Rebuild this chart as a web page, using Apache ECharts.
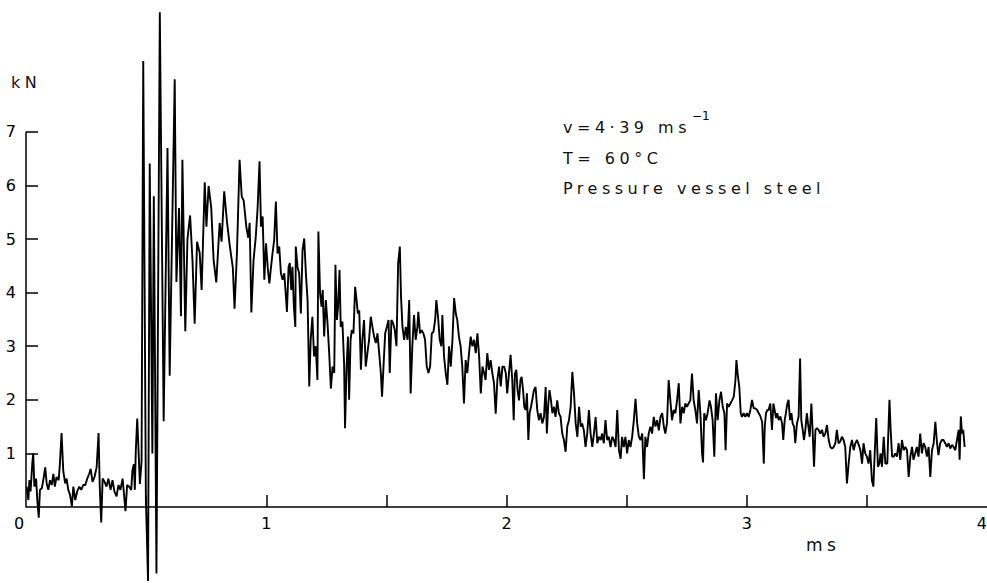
<!DOCTYPE html>
<html>
<head>
<meta charset="utf-8">
<script src="https://cdn.jsdelivr.net/npm/echarts@6/dist/echarts.min.js"></script>
<style>
html, body { margin: 0; padding: 0; background: #fff; }
#chart { width: 987px; height: 583px; }
/* stencil lettering of the original is widely spaced */
#chart text[fill="#111"] { letter-spacing: 4.5px; }
</style>
</head>
<body>
<div id="chart"></div>
<script>
// force record, [time ms, force kN]
const preImpact = [
  [0.003,0.38],[0.010,0.13],[0.014,0.50],[0.019,0.29],[0.026,0.80],[0.030,1.00],[0.035,0.38],[0.042,0.53],
  [0.047,0.13],[0.053,-0.20],[0.058,0.32],[0.066,0.35],[0.073,0.53],[0.080,0.74],[0.086,0.44],[0.093,0.32],
  [0.100,0.50],[0.107,0.41],[0.114,0.62],[0.120,0.38],[0.127,0.56],[0.136,0.50],[0.141,0.80],[0.148,1.38],
  [0.155,0.68],[0.163,0.44],[0.169,0.53],[0.176,0.32],[0.183,0.23],[0.191,0.01],[0.197,0.38],[0.205,0.13],
  [0.213,0.29],[0.222,0.38],[0.230,0.32],[0.238,0.41],[0.247,0.41],[0.255,0.53],[0.263,0.62],[0.269,0.71],
  [0.277,0.47],[0.285,0.56],[0.294,0.74],[0.302,1.38],[0.307,0.38],[0.313,-0.29],[0.319,0.53],[0.327,0.47],
  [0.335,0.38],[0.343,0.53],[0.352,0.32],[0.360,0.50],[0.368,0.29],[0.377,0.20],[0.385,0.41],[0.393,0.32],
  [0.402,0.53],[0.407,0.29],[0.414,-0.08],[0.421,0.41],[0.429,0.38],[0.438,0.32],[0.443,0.68],[0.449,0.80],
  [0.453,0.32],[0.457,1.05],[0.463,1.65]
];

const impact = [
  [0.474,0.43],[0.481,0.85],[0.488,8.32],[0.499,0.15],[0.508,-1.38],[0.515,6.41],[0.526,1.00],[0.532,5.80],
  [0.543,-1.24],[0.557,9.23],[0.573,1.60],[0.589,6.70],[0.598,2.45],[0.619,7.98],[0.626,4.20],[0.637,5.58],
  [0.645,3.56],[0.651,6.48],[0.663,3.28],[0.672,5.00],[0.683,5.44],[0.693,4.60],[0.702,3.42],[0.712,4.95],
  [0.723,4.74],[0.731,4.05],[0.744,6.06],[0.751,5.23],[0.760,5.99],[0.771,5.58],[0.781,4.60],[0.792,4.19],
  [0.806,5.30],[0.814,4.95],[0.825,5.89],[0.837,5.30],[0.848,4.88],[0.861,4.46],[0.868,3.70],[0.878,4.74],
  [0.889,6.48],[0.898,5.79],[0.906,5.72],[0.917,5.23],[0.925,5.02],[0.931,5.30],[0.938,3.63],[0.947,4.60],
  [0.956,5.02],[0.964,5.58],[0.972,6.45]
];

const decay = [
  [0.978,5.23],[0.985,5.42],[0.992,4.24],[0.999,4.92],[1.006,4.48],[1.013,4.17],[1.020,4.48],[1.026,4.73],
  [1.033,4.98],[1.040,5.70],[1.047,4.73],[1.054,4.86],[1.061,4.36],[1.068,4.24],[1.075,4.36],[1.082,3.92],
  [1.086,3.64],[1.093,4.48],[1.098,4.55],[1.104,4.05],[1.109,4.48],[1.115,3.74],[1.121,3.36],[1.123,4.86],
  [1.130,4.48],[1.137,4.36],[1.144,3.61],[1.151,4.79],[1.158,5.01],[1.165,4.36],[1.172,3.86],[1.179,2.25],
  [1.185,3.12],[1.192,3.55],[1.199,2.81],[1.206,3.00],[1.213,2.37],[1.217,5.14],[1.224,3.99],[1.230,3.74],
  [1.235,4.05],[1.241,3.18],[1.248,3.86],[1.255,3.43],[1.262,2.87],[1.269,2.21],[1.276,2.62],[1.283,2.50],
  [1.288,4.52],[1.294,3.49],[1.299,3.74],[1.305,4.42],[1.310,3.36],[1.317,3.46],[1.324,2.68],[1.328,1.47],
  [1.334,2.56],[1.340,3.18],[1.345,2.00],[1.351,3.12],[1.356,3.30],[1.363,3.24],[1.370,4.11],[1.376,3.86],
  [1.381,3.61],[1.387,3.67],[1.394,2.56],[1.400,3.12],[1.407,3.49],[1.414,2.62],[1.421,2.87],[1.428,3.12],
  [1.435,3.55],[1.442,3.36],[1.449,3.18],[1.456,3.06],[1.463,3.24],[1.470,2.87],[1.477,2.50],[1.482,2.06],
  [1.488,2.62],[1.495,3.24],[1.502,3.36],[1.509,3.49],[1.514,2.50],[1.521,3.49],[1.528,3.43],[1.535,3.30],
  [1.542,3.00],[1.549,4.55],[1.556,4.86],[1.561,3.92],[1.567,3.36],[1.574,3.12],[1.581,3.36],[1.588,3.12],
  [1.595,3.86],[1.601,2.12],[1.608,3.00],[1.615,3.58],[1.622,3.12],[1.629,3.36],[1.633,3.64],[1.640,3.24],
  [1.647,3.30],[1.654,3.24],[1.661,3.12],[1.668,2.62],[1.675,2.50],[1.682,2.62],[1.689,3.24],[1.696,3.27],
  [1.703,3.49],[1.708,3.86],[1.715,3.55],[1.722,3.12],[1.729,3.00],[1.733,3.58],[1.740,2.81],[1.747,2.50],
  [1.754,2.28],[1.761,3.00],[1.768,2.62],[1.775,3.12],[1.782,3.90],[1.789,3.61],[1.795,3.49],[1.802,3.18],
  [1.809,3.00],[1.816,2.62],[1.823,1.93],[1.830,2.74],[1.837,2.50],[1.844,2.87],[1.851,3.18],[1.858,3.00],
  [1.865,3.12],[1.872,2.87],[1.879,3.24],[1.886,2.81],[1.893,2.12],[1.900,2.62],[1.907,2.50],[1.913,2.37],
  [1.920,2.87],[1.927,2.56],[1.934,2.74],[1.941,2.50],[1.948,2.31],[1.955,1.74],[1.962,2.37],[1.969,2.62],
  [1.976,2.25],[1.983,2.62],[1.990,2.62],[1.997,2.50],[2.003,2.12]
];

const recovery = [
  [2.017,2.84],[2.024,2.37],[2.030,1.62],[2.035,2.49],[2.041,2.56],[2.046,2.18],[2.052,1.99],[2.058,2.37],
  [2.063,2.43],[2.069,2.18],[2.074,1.87],[2.080,1.81],[2.085,2.12],[2.091,1.25],[2.096,1.75],[2.102,1.87],
  [2.107,1.99],[2.114,2.18],[2.121,2.24],[2.128,1.81],[2.135,1.62],[2.142,1.75],[2.149,1.56],[2.156,1.68],
  [2.163,2.24],[2.168,1.37],[2.174,1.93],[2.179,2.18],[2.185,1.99],[2.191,1.75],[2.198,1.87],[2.204,1.68],
  [2.211,1.99],[2.218,1.75],[2.225,1.68],[2.232,1.37],[2.239,1.25],[2.246,1.03],[2.253,1.50],[2.260,1.62],
  [2.267,1.87],[2.274,2.52],[2.281,2.12],[2.288,1.56],[2.295,1.31],[2.302,1.87],[2.309,1.50],[2.315,1.56],
  [2.322,1.43],[2.329,1.12],[2.336,1.37],[2.343,1.81],[2.350,1.37],[2.357,1.12],[2.364,1.37],[2.371,1.68],
  [2.378,1.19],[2.385,1.31],[2.392,1.25],[2.398,1.37],[2.405,1.19],[2.412,1.62],[2.419,1.25],[2.426,1.31],
  [2.433,1.12],[2.440,1.31],[2.447,1.25],[2.454,1.12],[2.461,1.81],[2.468,1.06],[2.475,0.90],[2.481,1.31],
  [2.488,1.12],[2.495,1.31],[2.502,1.00],[2.509,1.25],[2.516,1.12],[2.523,1.31],[2.530,1.62],[2.537,2.02],
  [2.544,1.56],[2.551,1.31],[2.558,1.25],[2.565,1.37],[2.572,0.52],[2.578,1.31],[2.585,1.12],[2.592,1.37],
  [2.599,1.50],[2.606,1.37],[2.613,1.68],[2.620,1.50],[2.627,1.62],[2.634,1.43],[2.641,1.68],[2.648,1.75],
  [2.655,1.50],[2.661,1.37],[2.668,1.56],[2.675,2.37],[2.682,1.99],[2.689,1.62],[2.696,1.81],[2.703,1.75],
  [2.710,1.99],[2.717,2.31],[2.724,1.56],[2.731,1.87],[2.738,1.75],[2.744,1.93],[2.751,1.87],[2.758,1.93],
  [2.765,1.99],[2.772,2.49],[2.779,1.99],[2.786,1.81],[2.793,1.56],[2.800,2.18],[2.807,1.75],[2.814,1.00],
  [2.818,0.83],[2.823,1.75],[2.830,1.62],[2.837,1.75],[2.845,1.99],[2.851,1.87],[2.858,1.62],[2.865,0.94],
  [2.872,2.12],[2.879,1.62],[2.886,1.99],[2.893,2.15],[2.900,1.87],[2.907,1.75],[2.912,1.06],[2.918,1.93],
  [2.925,1.87],[2.932,1.93],[2.939,1.99],[2.946,2.06],[2.953,2.37],[2.957,2.74],[2.962,2.49],[2.969,2.24],
  [2.975,1.75],[2.980,1.68],[2.987,1.75],[2.994,1.68],[3.001,1.75],[3.008,1.68]
];

const tail = [
  [3.015,1.81],[3.022,2.00],[3.029,1.84],[3.036,1.84],[3.043,1.81],[3.050,1.75],[3.057,1.69],[3.064,1.59],
  [3.071,0.81],[3.075,1.50],[3.080,1.75],[3.086,1.81],[3.091,1.81],[3.098,1.93],[3.105,1.44],[3.111,1.93],
  [3.116,1.81],[3.122,1.66],[3.127,1.75],[3.133,1.62],[3.140,1.69],[3.147,1.56],[3.152,1.25],[3.158,1.62],
  [3.163,1.75],[3.169,1.93],[3.174,2.00],[3.180,1.62],[3.186,1.75],[3.191,1.56],[3.197,1.50],[3.202,1.19],
  [3.209,1.56],[3.216,1.69],[3.222,2.77],[3.227,1.62],[3.233,1.44],[3.238,1.25],[3.244,1.44],[3.250,1.75],
  [3.255,1.56],[3.262,1.31],[3.269,1.93],[3.274,1.44],[3.280,0.75],[3.286,1.44],[3.292,1.47],[3.299,1.44],
  [3.306,1.37],[3.313,1.44],[3.320,1.31],[3.327,1.37],[3.334,1.53],[3.341,1.25],[3.348,1.12],[3.355,1.09],
  [3.362,1.12],[3.369,1.19],[3.375,1.44],[3.382,1.19],[3.389,1.22],[3.396,1.31],[3.403,1.25],[3.410,1.12],
  [3.417,0.44],[3.424,0.81],[3.431,1.12],[3.438,1.25],[3.445,1.06],[3.452,1.19],[3.459,1.25],[3.466,1.16],
  [3.473,1.06],[3.480,0.81],[3.486,1.19],[3.493,1.00],[3.500,0.94],[3.507,0.81],[3.514,1.06],[3.521,0.50],
  [3.527,0.38],[3.532,0.94],[3.539,1.66],[3.546,0.75],[3.552,0.81],[3.557,1.00],[3.563,0.75],[3.570,1.31],
  [3.577,0.81],[3.585,0.81],[3.594,2.00],[3.599,1.44],[3.605,0.94],[3.612,0.94],[3.618,1.00],[3.625,0.94],
  [3.632,1.19],[3.639,0.88],[3.646,1.25],[3.653,1.06],[3.660,1.12],[3.667,1.06],[3.674,0.56],[3.681,0.94],
  [3.688,1.12],[3.694,0.88],[3.701,1.00],[3.708,1.12],[3.715,0.94],[3.722,1.37],[3.729,1.00],[3.736,1.19],
  [3.743,1.12],[3.750,0.94],[3.757,1.12],[3.764,0.56],[3.771,1.06],[3.778,1.19],[3.785,1.59],[3.792,1.19],
  [3.798,0.97],[3.805,1.19],[3.812,1.25],[3.819,1.25],[3.826,1.19],[3.833,1.12],[3.840,1.19],[3.847,1.09],
  [3.854,1.16],[3.861,1.12],[3.868,1.06],[3.875,1.25],[3.882,1.44],[3.886,0.88],[3.891,1.69],[3.896,1.37],
  [3.901,1.44],[3.907,1.12]
];

const xLabels = [0, 1, 2, 3, 4];
const xTicks = [0.5, 1, 1.5, 2, 2.5, 3, 3.5];
const yTicks = [1, 2, 3, 4, 5, 6, 7];
// the drawn force axis only runs from 0 to 7 kN
const forceAxis = [[0, 0], [0, 7]];

const font = 'DejaVu Sans';
const ink = '#000';

const chart = echarts.init(document.getElementById('chart'), null, { renderer: 'svg' });

chart.setOption({
  animation: false,
  backgroundColor: '#fff',
  // zero line sits at the bottom of the grid, the trace spills below it
  grid: { left: 26, right: 0, top: 0, bottom: 76, containLabel: false, outerBoundsMode: 'none' },
  xAxis: {
    type: 'value',
    min: 0,
    max: 4,
    axisLine: { lineStyle: { color: ink, width: 1.5 } },
    splitLine: { show: false },
    axisTick: { customValues: xTicks, inside: true, length: 12, lineStyle: { color: ink, width: 1.5 } },
    axisLabel: {
      customValues: xLabels,
      margin: 8,
      color: ink,
      fontSize: 16,
      fontFamily: font,
      alignMaxLabel: 'right',
      formatter: v => (v === 0 ? '{o|0}' : String(v)),
      rich: { o: { fontSize: 16, fontFamily: font, color: ink, padding: [0, 14, 0, 0] } }
    }
  },
  yAxis: {
    type: 'value',
    min: 0,
    max: 9.46,
    axisLine: { show: false },
    splitLine: { show: false },
    axisTick: { customValues: yTicks, inside: true, length: 12, lineStyle: { color: ink, width: 1.5 } },
    axisLabel: { customValues: yTicks, margin: 10, color: ink, fontSize: 16, fontFamily: font }
  },
  graphic: [
    { type: 'text', left: 11, top: 74, style: { text: 'kN', fill: '#111', font: '16px ' + font } },
    { type: 'text', left: 806, top: 536, style: { text: 'ms', fill: '#111', font: '17px ' + font } },
    { type: 'text', left: 563, top: 119, style: { text: 'v=4·39 ms', fill: '#111', font: '16px ' + font } },
    { type: 'text', left: 692, top: 110, style: { text: '−1', fill: '#000', font: '12px ' + font } },
    { type: 'text', left: 563, top: 150, style: { text: 'T= 60°C', fill: '#111', font: '16px ' + font } },
    { type: 'text', left: 563, top: 180, style: { text: 'Pressure vessel steel', fill: '#111', font: '16px ' + font } }
  ],
  series: [
    {
      type: 'line',
      data: forceAxis,
      symbol: 'none',
      silent: true,
      lineStyle: { color: ink, width: 1.5 }
    },
    {
      type: 'line',
      data: [].concat(preImpact, impact, decay, recovery, tail),
      symbol: 'none',
      clip: false,
      lineStyle: { color: ink, width: 1.9 }
    }
  ]
});
</script>
</body>
</html>
